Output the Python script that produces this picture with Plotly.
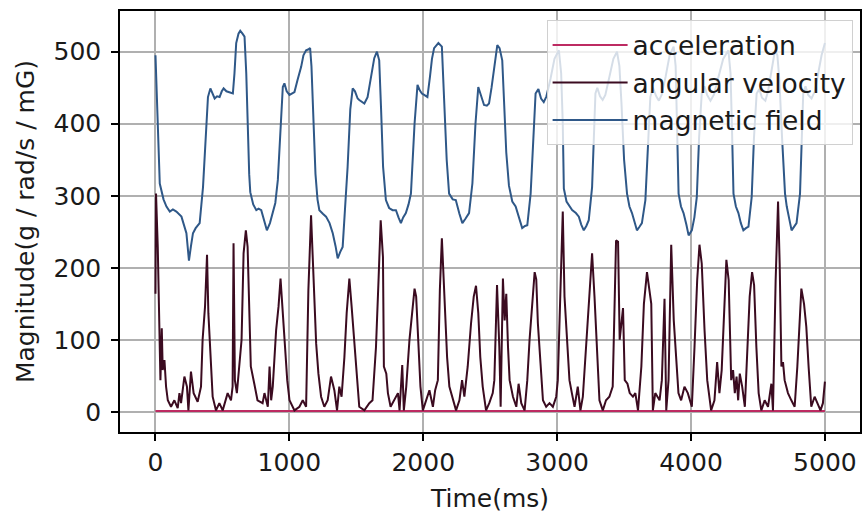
import plotly.graph_objects as go

# ---- sensor magnitudes over a 5 s window ----
acc_time = [0, 1000, 2000, 3000, 4000, 5000]
acc_vals = [1.0, 1.0, 1.0, 1.0, 1.0, 1.0]

gyro_time = [
    0, 2, 4, 17, 30, 37, 47, 54, 67, 79, 92, 116, 141, 166, 179, 191, 216, 235, 246, 265,
    285, 315, 340, 352, 370, 385, 395, 410, 427, 452, 477, 502, 539, 564, 576, 583, 593, 608, 626, 643,
    658, 675, 688, 700, 712, 738, 762, 800, 814, 839, 852, 864, 876, 901, 919, 934, 951, 969, 984, 1001,
    1038, 1075, 1100, 1125, 1142, 1162, 1175, 1187, 1200, 1217, 1237, 1261, 1286, 1311, 1336, 1356, 1373, 1390, 1411, 1428,
    1448, 1465, 1485, 1505, 1522, 1560, 1597, 1621, 1647, 1666, 1682, 1699, 1706, 1724, 1736, 1756, 1785, 1811, 1823, 1843,
    1855, 1873, 1897, 1922, 1935, 1947, 1964, 1979, 1997, 2022, 2046, 2072, 2089, 2109, 2124, 2139, 2151, 2163, 2178, 2195,
    2221, 2245, 2270, 2290, 2307, 2332, 2357, 2377, 2394, 2411, 2426, 2444, 2469, 2493, 2519, 2531, 2551, 2568, 2578, 2595,
    2608, 2620, 2633, 2645, 2670, 2695, 2712, 2732, 2757, 2777, 2794, 2811, 2832, 2844, 2856, 2876, 2894, 2918, 2943, 2968,
    2993, 3005, 3025, 3042, 3055, 3067, 3080, 3092, 3110, 3130, 3154, 3174, 3192, 3216, 3241, 3261, 3279, 3298, 3316, 3341,
    3365, 3390, 3415, 3440, 3455, 3467, 3480, 3492, 3505, 3525, 3542, 3566, 3584, 3604, 3629, 3648, 3671, 3685, 3703, 3715,
    3733, 3765, 3782, 3802, 3815, 3832, 3852, 3871, 3890, 3906, 3926, 3951, 3976, 4006, 4026, 4046, 4063, 4080, 4101, 4121,
    4150, 4175, 4195, 4212, 4229, 4246, 4264, 4281, 4300, 4314, 4327, 4340, 4352, 4364, 4382, 4402, 4421, 4438, 4456, 4471,
    4488, 4505, 4525, 4550, 4575, 4600, 4612, 4632, 4650, 4662, 4675, 4687, 4699, 4724, 4749, 4774, 4794, 4811, 4824, 4844,
    4861, 4878, 4898, 4923, 4943, 4967, 4985, 5000,
]
gyro_vals = [
    164, 213, 303, 229, 118, 44, 116, 58, 72, 35, 16, 7, 16, 5, 26, 12, 49, 35, 2, 56,
    26, 14, 35, 100, 146, 218, 137, 76, 21, 2, 12, 2, 26, 16, 35, 234, 44, 26, 63, 100,
    220, 252, 229, 127, 63, 39, 16, 12, 26, 7, 63, 16, 35, 113, 146, 185, 137, 81, 44, 16,
    2, 7, 16, 7, 169, 273, 206, 137, 95, 53, 21, 7, 16, 49, 30, 2, 35, 21, 76, 137,
    185, 146, 100, 44, 7, 2, 12, 16, 90, 183, 266, 215, 63, 53, 26, 7, 16, 26, 2, 65,
    2, 35, 100, 146, 171, 160, 100, 35, 2, 16, 30, 7, 30, 44, 169, 241, 192, 137, 76, 35,
    16, 2, 16, 44, 21, 63, 123, 160, 175, 137, 76, 35, 2, 12, 26, 44, 176, 90, 7, 185,
    127, 164, 90, 44, 21, 7, 39, 12, 2, 44, 100, 146, 194, 184, 123, 67, 16, 7, 12, 7,
    21, 44, 183, 278, 160, 123, 95, 44, 26, 7, 35, 2, 21, 90, 169, 220, 160, 90, 16, 2,
    16, 21, 35, 238, 236, 100, 127, 144, 44, 39, 26, 21, 26, 2, 63, 150, 194, 176, 150, 2,
    26, 16, 44, 157, 2, 44, 232, 127, 72, 26, 16, 35, 26, 7, 90, 183, 232, 206, 113, 44,
    2, 16, 69, 26, 58, 123, 211, 183, 44, 58, 26, 49, 16, 53, 35, 7, 90, 160, 194, 176,
    90, 26, 2, 16, 7, 39, 2, 183, 292, 206, 63, 69, 44, 26, 16, 7, 63, 137, 171, 150,
    118, 63, 7, 21, 12, 2, 12, 42,
]

mag_time = [
    0, 15, 32, 60, 82, 107, 130, 156, 194, 231, 250, 265, 280, 300, 330, 355, 375, 392, 410, 425,
    442, 460, 479, 495, 509, 530, 555, 578, 590, 603, 620, 633, 650, 665, 678, 690, 700, 708, 730, 753,
    770, 790, 810, 832, 855, 876, 895, 914, 935, 951, 963, 980, 1001, 1020, 1038, 1060, 1088, 1105, 1125, 1140,
    1155, 1165, 1175, 1195, 1210, 1224, 1250, 1274, 1300, 1324, 1345, 1361, 1380, 1398, 1415, 1435, 1455, 1473, 1490, 1510,
    1522, 1540, 1560, 1584, 1600, 1620, 1634, 1654, 1671, 1685, 1700, 1721, 1745, 1771, 1796, 1815, 1833, 1850, 1870, 1890,
    1908, 1935, 1957, 1975, 1990, 2007, 2031, 2050, 2065, 2081, 2100, 2113, 2139, 2150, 2156, 2175, 2193, 2220, 2243, 2270,
    2292, 2315, 2342, 2367, 2390, 2411, 2430, 2454, 2475, 2491, 2510, 2528, 2553, 2570, 2590, 2603, 2620, 2640, 2665, 2690,
    2715, 2739, 2760, 2777, 2802, 2820, 2839, 2860, 2880, 2900, 2920, 2950, 2980, 3013, 3030, 3042, 3050, 3070, 3112, 3140,
    3162, 3180, 3199, 3218, 3236, 3261, 3275, 3286, 3300, 3320, 3340, 3360, 3390, 3420, 3447, 3465, 3480, 3500, 3522, 3540,
    3559, 3578, 3596, 3615, 3633, 3659, 3680, 3696, 3715, 3740, 3760, 3780, 3810, 3840, 3870, 3885, 3895, 3907, 3925, 3944,
    3965, 3982, 4006, 4025, 4043, 4060, 4080, 4100, 4120, 4145, 4170, 4200, 4240, 4279, 4295, 4305, 4317, 4335, 4354, 4372,
    4391, 4410, 4429, 4453, 4470, 4490, 4510, 4530, 4555, 4575, 4600, 4627, 4645, 4660, 4680, 4702, 4715, 4727, 4740, 4751,
    4770, 4788, 4814, 4825, 4838, 4855, 4875, 4900, 4925, 4950, 4975, 5000,
]
mag_vals = [
    495, 400, 317, 295, 285, 278, 281, 278, 271, 248, 210, 230, 248, 255, 262, 312, 390, 437, 449, 442,
    435, 438, 437, 445, 449, 445, 443, 442, 470, 512, 525, 529, 525, 521, 470, 387, 330, 305, 288, 280,
    282, 280, 265, 252, 262, 276, 290, 322, 400, 451, 456, 445, 440, 442, 444, 460, 479, 495, 502, 503,
    505, 480, 433, 330, 295, 280, 275, 271, 262, 248, 230, 213, 222, 229, 280, 340, 420, 449, 445, 435,
    433, 430, 428, 437, 455, 478, 491, 500, 488, 420, 340, 294, 283, 280, 280, 270, 262, 270, 276, 288,
    303, 400, 454, 446, 442, 440, 437, 465, 490, 505, 510, 512, 507, 470, 433, 350, 303, 295, 294, 275,
    262, 268, 276, 317, 400, 451, 440, 426, 425, 428, 450, 475, 509, 505, 488, 433, 360, 314, 292, 285,
    268, 255, 258, 259, 303, 380, 442, 448, 435, 430, 438, 462, 490, 502, 470, 400, 310, 292, 280, 276,
    271, 260, 252, 258, 266, 312, 390, 442, 450, 438, 433, 440, 465, 490, 500, 480, 430, 350, 303, 285,
    276, 265, 252, 257, 262, 294, 380, 437, 450, 438, 432, 440, 465, 495, 507, 480, 400, 303, 285, 276,
    260, 245, 252, 270, 298, 380, 442, 452, 440, 432, 440, 460, 490, 502, 470, 400, 303, 285, 276, 262,
    252, 255, 257, 298, 380, 442, 448, 436, 432, 445, 475, 502, 495, 460, 380, 303, 285, 276, 262, 252,
    258, 262, 303, 380, 442, 452, 440, 435, 445, 470, 495, 512,
]

series = [
    ("acceleration", acc_time, acc_vals, "#bd2b62"),
    ("angular velocity", gyro_time, gyro_vals, "#3b0b20"),
    ("magnetic field", mag_time, mag_vals, "#2f5888"),
]

fig = go.Figure()
for name, t, v, color in series:
    fig.add_trace(go.Scatter(x=t, y=v, mode="lines", name=name,
                             line=dict(color=color, width=2)))

text_color = "#1a1a1a"
axis_common = dict(
    showline=True, linecolor="black", linewidth=1.5, mirror=True,
    ticks="outside", ticklen=7, tickwidth=1.5, tickcolor="black",
    showgrid=True, gridcolor="#b0b0b0", gridwidth=1.5,
    zeroline=False, tickfont=dict(size=25, color=text_color),
)

fig.update_xaxes(range=[-265, 5262], tickvals=[0, 1000, 2000, 3000, 4000, 5000],
                 ticklabelstandoff=0,
                 title=dict(text="Time(ms)", font=dict(size=25, color=text_color), standoff=14),
                 **axis_common)
fig.update_yaxes(range=[-28, 556.5], tickvals=[0, 100, 200, 300, 400, 500],
                 ticklabelstandoff=5,
                 title=dict(text="Magnitude(g / rad/s / mG)", font=dict(size=25, color=text_color), standoff=12),
                 **axis_common)

fig.update_layout(
    width=865, height=514,
    margin=dict(l=120, r=3, t=11, b=82),
    plot_bgcolor="white", paper_bgcolor="white",
    font=dict(family="DejaVu Sans", size=25, color=text_color),
    legend=dict(x=0.99, y=0.978, xanchor="right", yanchor="top",
                bgcolor="rgba(255,255,255,0.8)", bordercolor="#d0d0d0", borderwidth=1,
                font=dict(size=26.5), itemwidth=75),
    showlegend=True,
)

fig.write_html("out.html")
